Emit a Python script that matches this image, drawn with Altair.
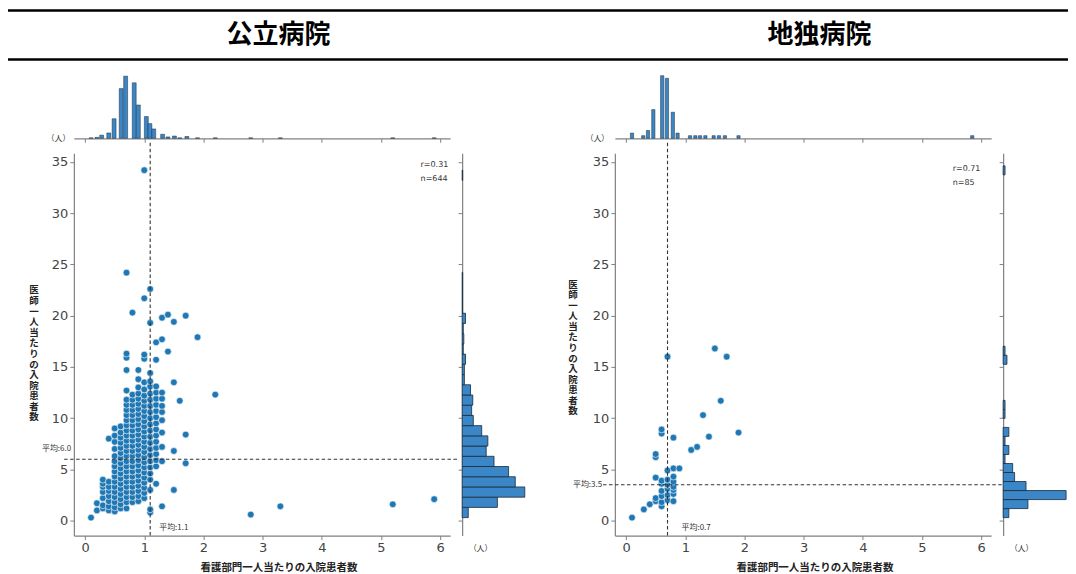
import altair as alt
import pandas as pd

# ---------------- text ----------------
HEADERS = ["公立病院", "地独病院"]
X_TITLE = "看護部門一人当たりの入院患者数"
Y_TITLE = "医師一人当たりの入院患者数"
UNIT = "（人）"

X_TICKS = [0, 1, 2, 3, 4, 5, 6]
Y_TICKS = [0, 5, 10, 15, 20, 25, 30, 35]
X_DOMAIN = [-0.19, 6.17]
Y_DOMAIN = [-1.45, 35.85]

# ---------------- 公立病院 ----------------
# nurse-side ratio -> doctor-side ratios observed at that value
PUBLIC_POINTS = {
    0.1: [0.3],
    0.2: [1.0, 1.7],
    0.3: [1.2, 1.5, 2.2, 2.8, 3.3, 3.6, 4.0],
    0.4: [1.0, 1.4, 1.9, 2.4, 2.9, 3.3, 3.8, 8.0],
    0.5: [0.9, 1.3, 1.8, 2.3, 2.8, 3.3, 3.8, 4.3, 4.8, 5.3, 5.8, 6.3, 7.0, 7.7, 8.3, 9.0],
    0.6: [1.2, 1.6, 2.1, 2.6, 3.1, 3.6, 4.1, 4.6, 5.1, 5.6, 6.1, 6.6, 7.1, 7.6, 8.1, 8.6, 9.2],
    0.7: [1.2, 1.8, 2.3, 2.8, 3.3, 3.8, 4.3, 4.8, 5.3, 5.8, 6.3, 6.8, 7.3, 7.8, 8.3, 8.8,
          9.3, 9.8, 10.3, 10.8, 11.3, 11.8, 12.7, 14.7, 15.9, 16.3, 24.2],
    0.8: [1.8, 2.3, 2.8, 3.3, 3.8, 4.3, 4.8, 5.3, 5.8, 6.3, 6.8, 7.3, 7.8, 8.3, 8.8, 9.3,
          9.8, 10.3, 10.8, 11.3, 11.8, 12.3, 20.3],
    0.9: [1.9, 2.4, 2.9, 3.4, 3.9, 4.4, 4.9, 5.4, 5.9, 6.4, 6.9, 7.4, 7.9, 8.4, 8.9, 9.4,
          9.9, 10.4, 10.9, 11.4, 11.9, 12.4, 13.0, 13.8, 14.7],
    1.0: [2.2, 2.7, 3.2, 3.7, 4.2, 4.7, 5.2, 5.7, 6.2, 6.7, 7.2, 7.7, 8.2, 8.7, 9.2, 9.7,
          10.2, 10.7, 11.2, 11.7, 12.2, 12.8, 13.5, 15.8, 16.2, 21.7, 34.2],
    1.1: [0.8, 1.1, 3.0, 4.0, 4.6, 5.2, 5.8, 6.4, 7.0, 7.6, 8.2, 8.8, 9.4, 10.0, 10.6,
          11.2, 11.8, 12.4, 13.1, 13.6, 14.4, 19.3, 22.6],
    1.2: [3.6, 5.3, 5.9, 6.5, 7.1, 7.7, 8.3, 8.9, 9.5, 10.1, 10.7, 11.3, 11.9, 12.5,
          13.1, 15.7, 17.4],
    1.3: [1.4, 5.8, 7.2, 8.6, 9.8, 10.6, 11.2, 11.9, 12.5, 17.7, 19.8],
    1.4: [16.5, 20.1],
    1.5: [3.0, 6.8, 13.5, 19.4],
    1.6: [11.7],
    1.7: [5.6, 8.4, 20.0],
    1.9: [17.9],
    2.2: [12.3],
    2.8: [0.6],
    3.3: [1.4],
    5.2: [1.6],
    5.9: [2.1],
}
PUBLIC_MEAN_X = 1.1
PUBLIC_MEAN_Y = 6.0
PUBLIC_R = 0.31
PUBLIC_N = 644
PUBLIC_XHIST_CENTERS = [0.1, 0.2, 0.28, 0.4, 0.49, 0.61, 0.685, 0.83, 0.9, 1.035, 1.095,
                        1.16, 1.31, 1.4, 1.51, 1.6, 1.72, 1.9, 2.2, 2.8, 3.3, 5.2, 5.9]
PUBLIC_XHIST_COUNTS = [1, 2, 7, 12, 44, 112, 140, 125, 75, 49, 33, 21, 9, 3, 5, 1, 4, 1, 1,
                       1, 1, 1, 1]
PUBLIC_XHIST_WIDTH = 0.066
PUBLIC_YHIST_START = 0.3
PUBLIC_YHIST_WIDTH = 0.997
PUBLIC_YHIST_COUNTS = [11, 63, 112, 95, 83, 57, 43, 46, 35, 20, 17, 19, 15, 4, 4, 6, 2,
                       3, 2, 6, 1, 1, 1, 1, 0, 0, 0, 0, 0, 0, 0, 0, 0, 1]

# ---------------- 地独病院 ----------------
LOCAL_POINTS = {
    0.1: [0.3],
    0.3: [1.1],
    0.4: [1.6],
    0.5: [1.9, 2.2, 4.2, 6.2, 6.5],
    0.6: [1.4, 1.8, 2.4, 2.9, 3.6, 3.9, 8.5, 8.9],
    0.7: [2.0, 2.5, 3.1, 3.5, 4.0, 4.9, 16.0],
    0.8: [1.9, 2.6, 3.0, 3.3, 3.8, 4.3, 5.1, 8.1],
    0.9: [5.1],
    1.1: [6.9],
    1.2: [7.2],
    1.3: [10.3],
    1.4: [8.2],
    1.5: [16.8],
    1.6: [11.7],
    1.7: [16.0],
    1.9: [8.6],
}
LOCAL_MEAN_X = 0.7
LOCAL_MEAN_Y = 3.5
LOCAL_R = 0.71
LOCAL_N = 85
LOCAL_XHIST_CENTERS = [0.1, 0.29, 0.37, 0.46, 0.61, 0.69, 0.79, 0.87, 1.08, 1.17, 1.25,
                       1.34, 1.48, 1.57, 1.67, 1.9, 5.85]
LOCAL_XHIST_COUNTS = [2, 1, 3, 11, 24, 23, 10, 2, 1, 1, 1, 1, 1, 1, 1, 1, 1]
LOCAL_XHIST_WIDTH = 0.055
LOCAL_YHIST_START = 0.3
LOCAL_YHIST_WIDTH = 0.88
LOCAL_YHIST_COUNTS = [3, 13, 33, 12, 6, 5, 1, 3, 1, 3, 0, 1, 1, 0, 0, 0, 0, 2, 1,
                      0, 0, 0, 0, 0, 0, 0, 0, 0, 0, 0, 0, 0, 0, 0, 0, 0, 0, 0, 1]

# ---------------- style ----------------
BLUE = "#1f77b4"
BAR_FILL = "#3a86c6"
BAR_EDGE = "#1c2b3a"
SPINE = "#808080"
DASH = "#333333"
INK = "#333333"
CJK = "Noto Sans CJK JP"
LATIN = "DejaVu Sans"

LEFT_MARGIN = 66          # room for the first panel's y axis
PLOT_W, PLOT_H = 377, 383
TOP_H, SIDE_W = 64, 65
GAP = 12                  # scatter -> side histogram
PANEL_GAP = 88            # first panel's side histogram -> second scatter
ROW_GAP = 15
HEADER_H = 49
HEADER_W = LEFT_MARGIN + 2 * (PLOT_W + GAP + SIDE_W) + PANEL_GAP

AXIS_LOOK = dict(grid=False, domainColor=SPINE, domainWidth=1.2, tickColor=SPINE,
                 tickWidth=1, tickSize=4, labelColor="#444", labelFont=LATIN,
                 labelFontSize=13, labelPadding=2)
SPINE_LOOK = {k: v for k, v in AXIS_LOOK.items() if not k.startswith("label")}


def joint_panel(points, mean_x, mean_y, r, n, xh_centers, xh_counts, xh_width, xh_max,
                yh_start, yh_width, yh_counts, yh_max, look):
    xs = alt.Scale(domain=X_DOMAIN, nice=False, zero=False)
    ys = alt.Scale(domain=Y_DOMAIN, nice=False, zero=False)

    x_axis = alt.Axis(values=X_TICKS, format="d", title=X_TITLE, titleFont=CJK,
                      titleFontSize=10.5, titleFontWeight="bold", titleColor="#222",
                      titleX=look["xtitle_x"], titleY=32, titleAlign="center",
                      titleBaseline="middle", **AXIS_LOOK)
    y_axis = alt.Axis(values=Y_TICKS, format="d", title=list(Y_TITLE), titleAngle=0,
                      titleFont=CJK, titleFontSize=9.5, titleFontWeight="bold",
                      titleColor="#222", titleLineHeight=10.6,
                      titleX=look["ytitle_x"], titleY=look["ytitle_y"],
                      titleAlign="center", titleBaseline="middle", **AXIS_LOOK)

    def X(field):
        return alt.X(field, type="quantitative", scale=xs, axis=x_axis)

    def Y(field):
        return alt.Y(field, type="quantitative", scale=ys, axis=y_axis)

    pts = pd.DataFrame([(x, y) for x, col in points.items() for y in col], columns=["x", "y"])
    dots = alt.Chart(pts).mark_circle(size=46, color=BLUE, opacity=1, stroke="white",
                                      strokeWidth=0.6).encode(x=X("x"), y=Y("y"))

    vdf = pd.DataFrame({"x": [mean_x], "y0": [Y_DOMAIN[0]], "y1": [look["v_top"]]})
    vline = alt.Chart(vdf).mark_rule(color=DASH, strokeDash=[3.5, 2.5], strokeWidth=1.1).encode(
        x=X("x"), y=Y("y0"), y2="y1:Q")
    hdf = pd.DataFrame({"y": [mean_y], "x0": [look["h_x0"]], "x1": [look["h_x1"]]})
    hline = alt.Chart(hdf).mark_rule(color=DASH, strokeDash=[3.5, 2.5], strokeWidth=1.1).encode(
        y=Y("y"), x=X("x0"), x2="x1:Q")

    ylab = alt.Chart(pd.DataFrame({"x": [look["ylab_x"]], "y": [mean_y],
                                   "t": [f"平均:{mean_y:.1f}"]})).mark_text(
        align="right", baseline="middle", dy=look["ylab_dy"], font=CJK, fontSize=8,
        color=INK).encode(x=X("x"), y=Y("y"), text="t:N")
    xlab = alt.Chart(pd.DataFrame({"x": [mean_x], "y": [look["xlab_y"]],
                                   "t": [f"平均:{mean_x:.1f}"]})).mark_text(
        align="left", baseline="middle", dx=look["xlab_dx"], font=CJK, fontSize=8,
        color=INK).encode(x=X("x"), y=Y("y"), text="t:N")
    stats = alt.Chart(pd.DataFrame({"x": [look["stat_x"]], "y": [look["stat_y"]],
                                    "t": [f"r={r:.2f}\nn={n}"]})).mark_text(
        align="left", baseline="middle", lineBreak="\n", lineHeight=14, font=LATIN,
        fontSize=8, color=INK).encode(x=X("x"), y=Y("y"), text="t:N")

    scatter = alt.layer(dots, vline, hline, ylab, xlab, stats).properties(
        width=PLOT_W, height=PLOT_H)

    # marginal histogram along x (top)
    xh = pd.DataFrame({"c": xh_centers, "n": xh_counts})
    xh = xh[xh["n"] > 0].copy()
    xh["lo"] = xh["c"] - xh_width / 2
    xh["hi"] = xh["c"] + xh_width / 2
    xh["z"] = 0
    top = alt.Chart(xh).mark_bar(fill=BAR_FILL, stroke=BAR_EDGE, strokeWidth=0.5).encode(
        x=alt.X("lo:Q", scale=xs,
                axis=alt.Axis(values=X_TICKS, labels=False, title=None, **SPINE_LOOK)),
        x2="hi:Q",
        y=alt.Y("n:Q", scale=alt.Scale(domain=[0, xh_max], nice=False),
                axis=alt.Axis(title=UNIT, titleAngle=0, titleX=look["unit_top_x"],
                              titleY=TOP_H, titleAlign="center", titleBaseline="middle",
                              titleFont=CJK, titleFontSize=8, titleFontWeight="normal",
                              titleColor=INK, domain=False, ticks=False, labels=False,
                              grid=False)),
        y2="z:Q",
    ).properties(width=PLOT_W, height=TOP_H)

    # marginal histogram along y (right)
    lows = [yh_start + k * yh_width for k in range(len(yh_counts))]
    yh = pd.DataFrame({"lo": lows, "n": yh_counts})
    yh = yh[yh["n"] > 0].copy()
    yh["hi"] = yh["lo"] + yh_width
    yh["z"] = 0
    side = alt.Chart(yh).mark_bar(fill=BAR_FILL, stroke=BAR_EDGE, strokeWidth=0.8).encode(
        y=alt.Y("lo:Q", scale=ys,
                axis=alt.Axis(values=Y_TICKS, labels=False, title=None, **SPINE_LOOK)),
        y2="hi:Q",
        x=alt.X("n:Q", scale=alt.Scale(domain=[0, yh_max], nice=False),
                axis=alt.Axis(title=UNIT, titleX=18, titleY=13, titleAlign="center",
                              titleBaseline="middle", titleFont=CJK, titleFontSize=8,
                              titleFontWeight="normal", titleColor=INK, domain=False,
                              ticks=False, labels=False, grid=False)),
        x2="z:Q",
    ).properties(width=SIDE_W, height=PLOT_H)

    return top, scatter, side


top_l, scatter_l, side_l = joint_panel(
    PUBLIC_POINTS, PUBLIC_MEAN_X, PUBLIC_MEAN_Y, PUBLIC_R, PUBLIC_N,
    PUBLIC_XHIST_CENTERS, PUBLIC_XHIST_COUNTS, PUBLIC_XHIST_WIDTH, 144,
    PUBLIC_YHIST_START, PUBLIC_YHIST_WIDTH, PUBLIC_YHIST_COUNTS, 116,
    dict(xtitle_x=205, ytitle_x=-40.5, ytitle_y=137, v_top=37.0, h_x0=-0.354, h_x1=6.31,
         ylab_x=-0.236, ylab_dy=-10, xlab_y=-0.7, xlab_dx=9, stat_x=5.67, stat_y=34.66,
         unit_top_x=-16),
)
top_r, scatter_r, side_r = joint_panel(
    LOCAL_POINTS, LOCAL_MEAN_X, LOCAL_MEAN_Y, LOCAL_R, LOCAL_N,
    LOCAL_XHIST_CENTERS, LOCAL_XHIST_COUNTS, LOCAL_XHIST_WIDTH, 24.5,
    LOCAL_YHIST_START, LOCAL_YHIST_WIDTH, LOCAL_YHIST_COUNTS, 34,
    dict(xtitle_x=200, ytitle_x=-42.5, ytitle_y=131, v_top=37.0, h_x0=-0.39, h_x1=6.35,
         ylab_x=-0.405, ylab_dy=0, xlab_y=-0.75, xlab_dx=14, stat_x=5.52, stat_y=34.27,
         unit_top_x=-18),
)

# header band drawn above the first top histogram: two rules and the group names
hdr_top = -(HEADER_H + ROW_GAP)
header_rules = alt.Chart(pd.DataFrame({"edge": [0, 1]})).mark_rule(
    color="black", strokeWidth=2.5).encode(
    x=alt.value(-LEFT_MARGIN), x2=alt.value(HEADER_W - LEFT_MARGIN),
    y=alt.Y("edge:Q", scale=alt.Scale(domain=[0, 1], range=[hdr_top, hdr_top + HEADER_H],
                                      nice=False, zero=False), axis=None))
header_names = alt.Chart(pd.DataFrame({"label": HEADERS, "slot": [0, 1]})).mark_text(
    font=CJK, fontSize=26, fontWeight="bold", color="black", baseline="middle",
    align="center").encode(
    x=alt.X("slot:Q", scale=alt.Scale(domain=[0, 1], range=[205, 747], nice=False,
                                      zero=False), axis=None),
    y=alt.value(hdr_top + HEADER_H / 2), text="label:N")
top_l = alt.layer(top_l, header_rules, header_names).resolve_scale(
    x="independent", y="independent")


def spacer(w, h):
    return alt.Chart(pd.DataFrame({"v": [0]})).mark_point(size=1, opacity=0).encode(
        x=alt.value(w / 2), y=alt.value(h / 2)).properties(width=w, height=h)


cells = [
    spacer(LEFT_MARGIN, TOP_H), top_l, spacer(GAP, TOP_H), spacer(SIDE_W, TOP_H),
    spacer(PANEL_GAP, TOP_H), top_r, spacer(GAP, TOP_H), spacer(SIDE_W, TOP_H),
    spacer(LEFT_MARGIN, PLOT_H), scatter_l, spacer(GAP, PLOT_H), side_l,
    spacer(PANEL_GAP, PLOT_H), scatter_r, spacer(GAP, PLOT_H), side_r,
]

chart = alt.concat(*cells, columns=8, spacing={"row": ROW_GAP, "column": 0},
                   bounds="flush", align="each").configure_view(stroke=None).properties(
    padding={"left": 6, "top": 8, "right": 6, "bottom": 1}, background="white")

chart.save("out.html", embed_options={"renderer": "svg", "actions": False})
